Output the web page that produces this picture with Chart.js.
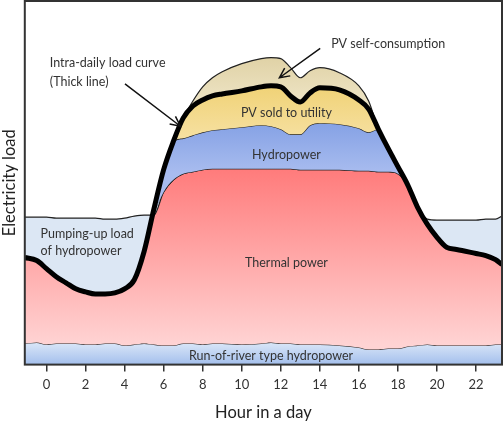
<!DOCTYPE html>
<html>
<head>
<meta charset="utf-8">
<script src="https://cdn.jsdelivr.net/npm/chart.js@4/dist/chart.umd.min.js"></script>
<style>
  html, body { margin: 0; padding: 0; background: #fff; }
  #wrap { width: 504px; height: 436px; }
</style>
</head>
<body>
<div id="wrap"><canvas id="myChart" width="504" height="436"></canvas></div>
<script>
// hours of the day (x positions of the sampled points)
var hours = [-1.11, -0.5, 0, 0.5, 1, 1.5, 2, 2.5, 3, 3.5, 4, 4.5, 5, 5.5, 6, 6.5, 7, 7.5, 8, 8.5, 9, 10, 11, 11.5, 12, 12.5, 13, 13.5, 14, 15, 16, 16.5, 17, 17.5, 18, 18.5, 19, 19.5, 20, 20.5, 21, 22, 22.5, 23, 23.33];
var hourTicks = [0, 2, 4, 6, 8, 10, 12, 14, 16, 18, 20, 22];

// cumulative tops of each band (arbitrary load units)
var riverTop   = [21, 22, 20, 21, 21, 21, 20, 20, 21, 21, 19, 20, 21, 20, 19, 19, 21, 21, 20, 21, 21, 20, 21, 22, 21, 21, 20, 20, 20, 19, 17, 15, 15, 16, 16, 18, 19, 20, 19, 19, 19, 19, 19, 20, 20];
var loadCurve  = [106, 103, 95, 87, 81, 75, 72, 70, 70, 71, 75, 84, 112, 154, 193, 221, 244, 256, 262, 266, 268, 271, 275, 276, 275, 266, 260, 269, 274, 272, 262, 253, 233, 214, 196, 178, 156, 139, 126, 116, 114, 110, 108, 104, 99];
var thermalTop = [106, 103, 95, 87, 81, 75, 72, 70, 70, 71, 75, 84, 112, 148, 171, 183, 189, 191, 193, 194, 194, 194, 194, 194, 194, 194, 193, 193, 193, 193, 192, 192, 191, 191, 189, 178, 156, 139, 126, 116, 114, 110, 108, 104, 99];
var pumpingTop = [146, 146, 146, 145, 145, 145, 145, 145, 144, 144, 145, 147, 148, 148, 171, 183, 189, 191, 193, 194, 194, 194, 194, 194, 194, 194, 193, 193, 193, 193, 192, 192, 191, 191, 189, 178, 156, 144, 143, 143, 143, 143, 144, 144, 147];
var hydroTop   = [106, 103, 95, 87, 81, 75, 72, 70, 70, 71, 75, 84, 112, 154, 193, 221, 224, 227, 230, 232, 233, 235, 237, 236, 233, 228, 228, 237, 239, 238, 234, 230, 233, 214, 196, 178, 156, 139, 126, 116, 114, 110, 108, 104, 99];
var pvSelfTop  = [106, 103, 95, 87, 81, 75, 72, 70, 70, 71, 75, 84, 112, 154, 193, 221, 244, 261, 275, 284, 290, 298, 303, 304, 303, 294, 284, 291, 294, 289, 276, 261, 233, 214, 196, 178, 156, 139, 126, 116, 114, 110, 108, 104, 99];

function pts(arr) {
  return hours.map(function (h, i) { return { x: h, y: arr[i] }; });
}

// vertical gradient between two load values
function grad(topVal, botVal, c1, c2) {
  return function (ctx) {
    var chart = ctx.chart;
    if (!chart.chartArea) return c1;
    var y = chart.scales.y;
    var g = chart.ctx.createLinearGradient(0, y.getPixelForValue(topVal), 0, y.getPixelForValue(botVal));
    g.addColorStop(0, c1);
    g.addColorStop(1, c2);
    return g;
  };
}

var FONT = 'Lato, "Open Sans", sans-serif';
var TXT = '#333';

var labels = [
  { text: 'Intra-daily load curve', x: 0.17, y: 299, align: 'left' },
  { text: '(Thick line)', x: 0.17, y: 280, align: 'left' },
  { text: 'PV self-consumption', x: 14.58, y: 317, align: 'left' },
  { text: 'PV sold to utility', x: 12.29, y: 249, align: 'center' },
  { text: 'Hydropower', x: 12.29, y: 208, align: 'center' },
  { text: 'Thermal power', x: 12.29, y: 101, align: 'center' },
  { text: 'Pumping-up load', x: -0.3, y: 129, align: 'left' },
  { text: 'of hydropower', x: -0.3, y: 113, align: 'left' },
  { text: 'Run-of-river type hydropower', x: 11.5, y: 9, align: 'center' }
];
var arrows = [
  { x1: 4.02, y1: 278, x2: 6.86, y2: 236 },
  { x1: 14.02, y1: 313, x2: 11.93, y2: 284 }
];

var annotate = {
  id: 'annotate',
  afterDatasetsDraw: function (chart) {
    var c = chart.ctx, xs = chart.scales.x, ys = chart.scales.y, a = chart.chartArea;
    c.save();
    c.font = '12.5px ' + FONT;
    c.fillStyle = TXT;
    c.textBaseline = 'middle';
    labels.forEach(function (l) {
      c.textAlign = l.align;
      c.fillText(l.text, xs.getPixelForValue(l.x), ys.getPixelForValue(l.y));
    });
    c.strokeStyle = '#111';
    c.lineWidth = 1.5;
    arrows.forEach(function (r) {
      var x1 = xs.getPixelForValue(r.x1), y1 = ys.getPixelForValue(r.y1);
      var x2 = xs.getPixelForValue(r.x2), y2 = ys.getPixelForValue(r.y2);
      var ang = Math.atan2(y2 - y1, x2 - x1);
      c.beginPath();
      c.moveTo(x1, y1); c.lineTo(x2, y2);
      c.moveTo(x2 - 11 * Math.cos(ang - 0.45), y2 - 11 * Math.sin(ang - 0.45));
      c.lineTo(x2, y2);
      c.lineTo(x2 - 11 * Math.cos(ang + 0.45), y2 - 11 * Math.sin(ang + 0.45));
      c.stroke();
    });
    // plot frame
    c.strokeStyle = '#333';
    c.lineWidth = 2;
    c.strokeRect(a.left, a.top, a.right - a.left, a.bottom - a.top);
    c.restore();
  }
};

var thin = { borderColor: '#222', borderWidth: 1.2, pointRadius: 0, cubicInterpolationMode: 'monotone' };
function ds(label, arr, fill, bg, order) {
  return Object.assign({ label: label, data: pts(arr), fill: fill, backgroundColor: bg, order: order }, thin);
}

window.addEventListener('load', function () {
  var ctx = document.getElementById('myChart').getContext('2d');
  new Chart(ctx, {
    type: 'line',
    data: {
      datasets: [
        ds('Run-of-river type hydropower', riverTop, 'origin', grad(22, 0, '#dbe7f8', '#a3bfec'), 6),
        ds('Thermal power', thermalTop, '-1', grad(194, 20, '#ff7b7b', '#ffd3d3'), 5),
        ds('Pumping-up load of hydropower', pumpingTop, '-1', '#dce7f4', 4),
        ds('Hydropower', hydroTop, { target: 1 }, grad(238, 190, '#86a2e5', '#a8bcef'), 3),
        ds('PV sold to utility', loadCurve, '-1', grad(276, 225, '#f0d276', '#f6e0a0'), 2),
        ds('PV self-consumption', pvSelfTop, '-1', grad(304, 255, '#e0d2a6', '#efe6c8'), 1),
        { label: 'Load curve', data: pts(loadCurve), fill: false, borderColor: '#000', borderWidth: 5,
          pointRadius: 0, cubicInterpolationMode: 'monotone', order: 0 }
      ]
    },
    options: {
      responsive: false,
      animation: false,
      events: [],
      layout: { padding: { left: 0, right: 2, top: 1, bottom: 9 } },
      plugins: { legend: { display: false }, tooltip: { enabled: false } },
      scales: {
        x: {
          type: 'linear',
          min: -1.11,
          max: 23.33,
          afterBuildTicks: function (scale) {
            scale.ticks = hourTicks.map(function (v) { return { value: v }; });
          },
          grid: { display: true, drawOnChartArea: false, drawTicks: true, tickLength: 7, color: '#333', lineWidth: 1.5 },
          border: { display: false },
          ticks: { color: TXT, font: { family: FONT, size: 13 }, padding: 5, maxRotation: 0 },
          title: { display: true, text: 'Hour in a day', color: '#222', font: { family: FONT, size: 16.5 }, padding: { top: 6, bottom: 4 } }
        },
        y: {
          min: 0,
          max: 360,
          grid: { display: false, drawTicks: false },
          border: { display: false },
          ticks: { display: false },
          title: { display: true, text: 'Electricity load', color: '#222', font: { family: FONT, size: 16.5 }, padding: { top: 0, bottom: 5 } }
        }
      }
    },
    plugins: [annotate]
  });
});
</script>
</body>
</html>
